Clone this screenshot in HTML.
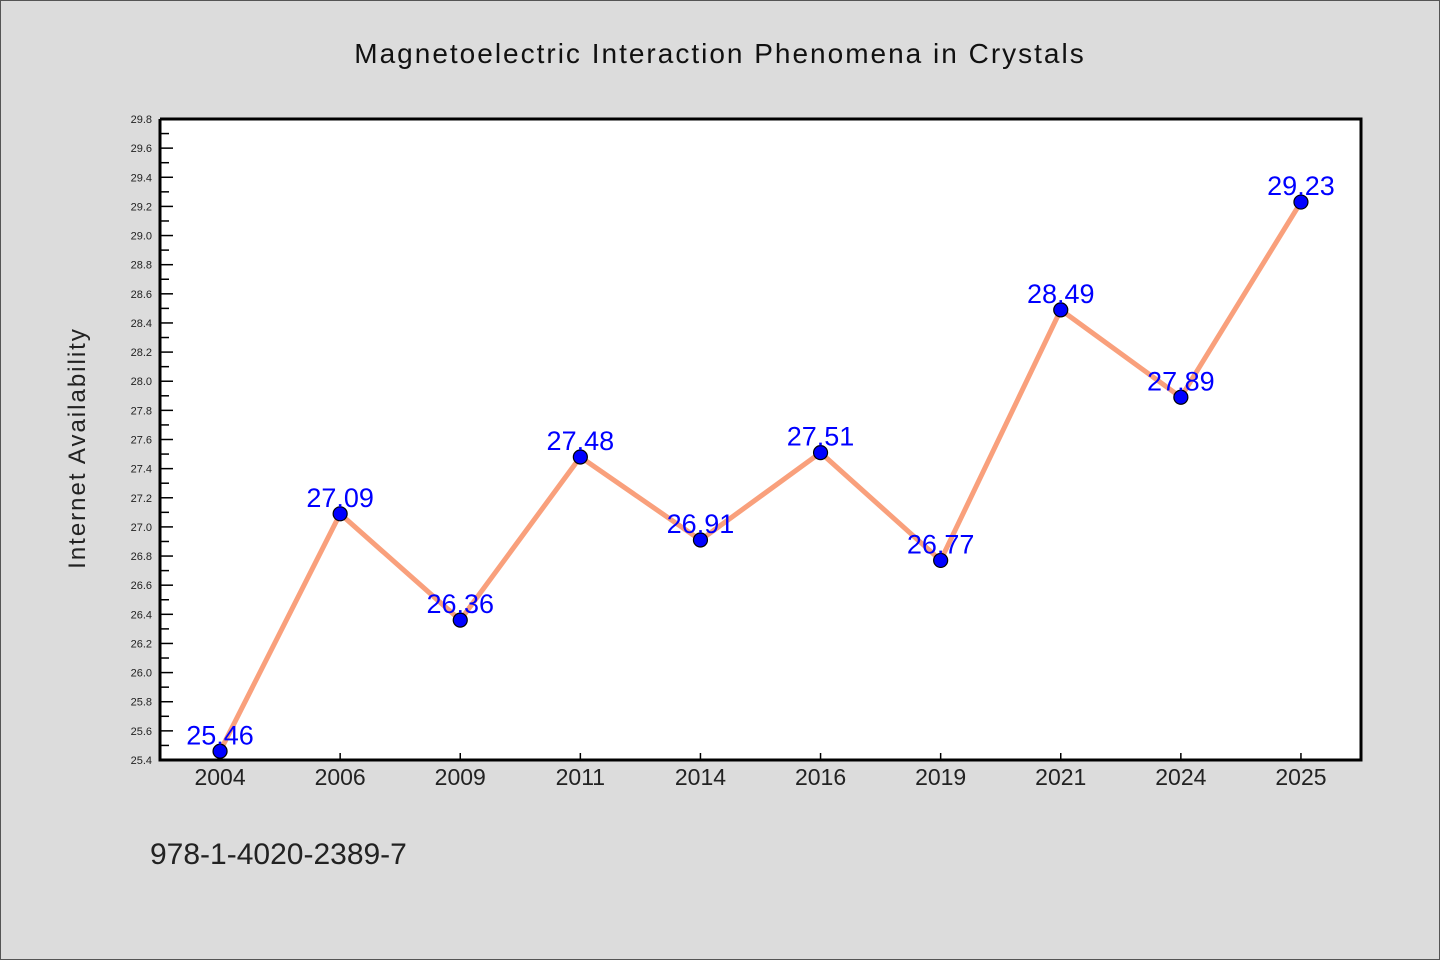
<!DOCTYPE html>
<html><head><meta charset="utf-8"><style>
html,body{margin:0;background:#dcdcdc;width:1440px;height:960px;overflow:hidden}
svg{display:block}
svg text{font-family:"WenQuanYi Zen Hei Mono","WenQuanYi Zen Hei","Liberation Sans",sans-serif}
</style></head><body>
<svg width="1440" height="960" xmlns="http://www.w3.org/2000/svg">
<rect x="0.5" y="0.5" width="1439" height="959" fill="#dcdcdc" stroke="#555"/>
<text x="720" y="63" text-anchor="middle" font-size="28" fill="#111" letter-spacing="2">Magnetoelectric Interaction Phenomena in Crystals</text>
<rect x="160" y="119" width="1201" height="641" fill="#fff"/>
<g id="yt"></g><g id="xt"></g>
<polyline id="line" fill="none" stroke="#f9a07c" stroke-width="5"/>
<g id="pts"></g><g id="lbls"></g>
<path d="M160 119V760H1361V119H160" fill="none" stroke="#000" stroke-width="3"/>
<text transform="translate(85,448) rotate(-90)" text-anchor="middle" font-size="24" fill="#222" letter-spacing="2">Internet Availability</text>
<text x="150" y="864" font-size="30" fill="#222">978-1-4020-2389-7</text>
</svg>
<script>
const categories=["2004","2006","2009","2011","2014","2016","2019","2021","2024","2025"];
const values=[25.46,27.09,26.36,27.48,26.91,27.51,26.77,28.49,27.89,29.23];
const yTicks=["25.4","25.6","25.8","26.0","26.2","26.4","26.6","26.8","27.0","27.2","27.4","27.6","27.8","28.0","28.2","28.4","28.6","28.8","29.0","29.2","29.4","29.6","29.8"];
const NS="http://www.w3.org/2000/svg";
const yMin=25.4,yMax=29.8,plotTop=119,plotBot=760,plotLeft=160,plotRight=1361;
function yPos(v){return plotBot-(v-yMin)/(yMax-yMin)*(plotBot-plotTop);}
function xPos(i){return plotLeft+(plotRight-plotLeft)/categories.length*(i+0.5);}
function mk(t,a,p){const e=document.createElementNS(NS,t);for(const k in a)e.setAttribute(k,a[k]);p.appendChild(e);return e;}
const ytG=document.getElementById('yt');
yTicks.forEach((t,i)=>{const v=parseFloat(t),yy=yPos(v);
 const l=mk('line',{x1:plotLeft,x2:plotLeft+13,y1:yy,y2:yy,stroke:'#000','stroke-width':1.5},ytG);
 
 
 const tx=mk('text',{x:152,y:yy+4,'text-anchor':'end','font-size':11,fill:'#222'},ytG);tx.textContent=t;
 
 
 if(i<yTicks.length-1){const ym=yPos(v+0.1);const m=mk('line',{x1:plotLeft,x2:plotLeft+9,y1:ym,y2:ym,stroke:'#000','stroke-width':1.5},ytG);
 
 }
});
const xtG=document.getElementById('xt');
categories.forEach((c,i)=>{const xx=xPos(i);
 const l=mk('line',{x1:xx,x2:xx,y1:plotBot,y2:plotBot-7,stroke:'#000','stroke-width':1.5},xtG);
 
 
 const t=mk('text',{x:xx,y:785,'text-anchor':'middle','font-size':23,fill:'#222'},xtG);t.textContent=c;
 
 
});
document.getElementById('line').setAttribute('points',values.map((v,i)=>xPos(i)+','+yPos(v)).join(' '));
const ptsG=document.getElementById('pts'),lbG=document.getElementById('lbls');
values.forEach((v,i)=>{
 const c=mk('circle',{cx:xPos(i),cy:yPos(v),r:7,fill:'#0000ff',stroke:'#000','stroke-width':1.2},ptsG);
 
 
 const t=mk('text',{x:xPos(i),y:yPos(v)-7,'text-anchor':'middle','font-size':27,fill:'#0000ff'},lbG);t.textContent=v.toFixed(2);
 
 
});
</script>
</body></html>
